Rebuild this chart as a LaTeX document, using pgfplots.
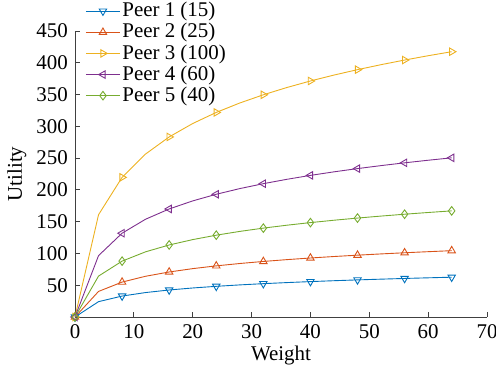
\documentclass[border=0pt]{standalone}
\usepackage{pgfplots}
\pgfplotsset{compat=1.18}
\usepackage{fontspec}
\setmainfont{Liberation Serif}
\definecolor{c1}{HTML}{0072BD}
\definecolor{c2}{HTML}{D95319}
\definecolor{c3}{HTML}{EDB120}
\definecolor{c4}{HTML}{7E2F8E}
\definecolor{c5}{HTML}{77AC30}
\pgfplotstableread{
w p1 p2 p3 p4 p5
0 0 0 0 0 0
4 24.14 40.24 160.94 96.57 64.38
8 32.96 54.93 219.72 131.83 87.89
12 38.47 64.12 256.49 153.89 102.60
16 42.50 70.83 283.32 169.99 113.33
20 45.67 76.11 304.45 182.67 121.78
24 48.28 80.47 321.89 193.13 128.76
28 50.51 84.18 336.73 202.04 134.69
32 52.45 87.41 349.65 209.79 139.86
36 54.16 90.27 361.09 216.65 144.44
40 55.70 92.84 371.36 222.82 148.54
44 57.10 95.17 380.67 228.40 152.27
48 58.38 97.30 389.18 233.51 155.67
52 59.55 99.26 397.03 238.22 158.81
56 60.65 101.08 404.31 242.59 161.72
60 61.66 102.77 411.09 246.65 164.44
64 62.62 104.36 417.44 250.46 166.98
}\datatable
\begin{document}
\fontsize{21}{24}\selectfont
\begin{tikzpicture}
\begin{axis}[
  scale only axis,
  width=412bp, height=286bp,
  xmin=0, xmax=70, ymin=0, ymax=450,
  xtick={0,10,...,70},
  ytick={50,100,...,450},
  axis x line=bottom, axis y line=left,
  axis line style={-, black!75, line width=0.8pt},
  tick align=inside,
  major tick length=5bp,
  tick style={black!75, line width=0.8pt},
  every tick label/.append style={font=\fontsize{21}{24}\selectfont},
  /pgf/number format/assume math mode=true,
  xlabel={Weight}, ylabel={Utility},
  label style={font=\fontsize{21}{24}\selectfont},
  xlabel style={yshift=6bp},
  ylabel style={yshift=-4bp},
  legend cell align=left,
  legend style={draw=none, fill=none, at={(axis description cs:0.025,1.108)}, anchor=north west,
    font=\fontsize{21}{24}\selectfont, row sep=-0.5bp, inner sep=0pt},
  legend image code/.code={\draw[mark repeat=2,mark phase=2] plot coordinates {(0cm,0cm) (0.6cm,0cm) (1.2cm,0cm)};},
  every axis plot/.append style={line width=0.9pt, mark size=4.3bp, mark repeat=2, mark options={solid, fill=white}},
]
\coordinate (o) at (rel axis cs:0,0);
\addplot[c1, mark=triangle, mark options={rotate=180}] table[x=w,y=p1]{\datatable};
\addlegendentry{Peer 1 (15)}
\addplot[c2, mark=triangle] table[x=w,y=p2]{\datatable};
\addlegendentry{Peer 2 (25)}
\addplot[c3, mark=triangle, mark options={rotate=-90}] table[x=w,y=p3]{\datatable};
\addlegendentry{Peer 3 (100)}
\addplot[c4, mark=triangle, mark options={rotate=90}] table[x=w,y=p4]{\datatable};
\addlegendentry{Peer 4 (60)}
\addplot[c5, mark=diamond] table[x=w,y=p5]{\datatable};
\addlegendentry{Peer 5 (40)}
\end{axis}
\pgfresetboundingbox
\path[use as bounding box] ([shift={(-75bp,-53bp)}]o) rectangle ([shift={(421bp,317bp)}]o);
\end{tikzpicture}
\end{document}
